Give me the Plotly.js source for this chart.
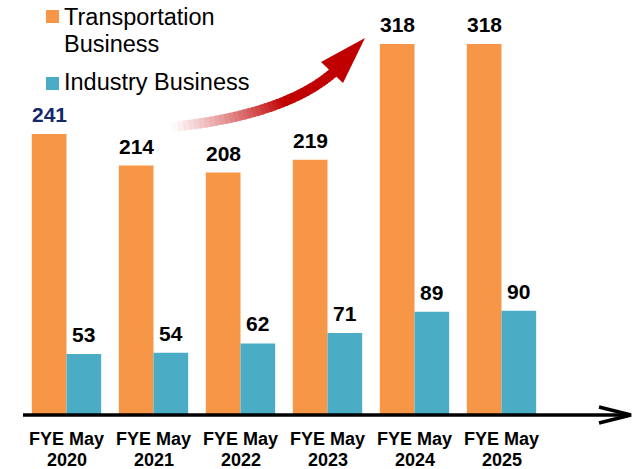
<!DOCTYPE html>
<html>
<head>
<meta charset="utf-8">
<script src="https://cdn.plot.ly/plotly-3.0.1.min.js"></script>
<style>html,body{margin:0;padding:0;background:#fff;}#chart{width:636px;height:469px;}</style>
</head>
<body>
<div id="chart"></div>
<script>
// ---- data ----
const categories = ['FYE May 2020','FYE May 2021','FYE May 2022','FYE May 2023','FYE May 2024','FYE May 2025'];
const tickLine1 = ['FYE May','FYE May','FYE May','FYE May','FYE May','FYE May'];
const tickLine2 = ['2020','2021','2022','2023','2024','2025'];
const transport = [241, 214, 208, 219, 318, 318];
const industry = [53, 54, 62, 71, 89, 90];
const seriesNames = ['Transportation Business', 'Industry Business'];

// ---- layout helpers (pixel -> paper) ----
const W = 636, H = 469, L = 23, R = 91, T = 0, B = 53;
const pw = W - L - R, ph = H - T - B;
const px = p => (p - L) / pw;
const py = p => (H - B - p) / ph;

const ORANGE = '#F79646', TEAL = '#4BACC6', RED = [192, 0, 0];
const FONT = 'Liberation Sans, Arial, sans-serif';
const BAR_HALF = 17.35;

const traces = [
  {type: 'bar', name: seriesNames[0], x: categories, y: transport, marker: {color: ORANGE}, hoverinfo: 'skip'},
  {type: 'bar', name: seriesNames[1], x: categories, y: industry, marker: {color: TEAL}, hoverinfo: 'skip'}
];

const shapes = [];
const annotations = [];

// value labels
const valFont = c => ({family: FONT, size: 21, weight: 'bold', color: c});
categories.forEach((c, i) => {
  annotations.push({xref: 'x', yref: 'y', x: c, y: transport[i], text: String(transport[i]), showarrow: false,
    xanchor: 'center', yanchor: 'middle', xshift: -BAR_HALF, yshift: 19.5,
    font: valFont(i === 0 ? '#13296B' : '#000000')});
  annotations.push({xref: 'x', yref: 'y', x: c, y: industry[i], text: String(industry[i]), showarrow: false,
    xanchor: 'center', yanchor: 'middle', xshift: BAR_HALF, yshift: 19.5,
    font: valFont('#000000')});
});

// baseline axis arrow
shapes.push({type: 'line', xref: 'paper', yref: 'paper', x0: px(23), x1: px(630), y0: py(415), y1: py(415), line: {color: '#000', width: 3.5}});
shapes.push({type: 'path', xref: 'paper', yref: 'paper',
  path: `M${px(599)},${py(407)} L${px(631)},${py(415)} L${px(599)},${py(423)}`,
  line: {color: '#000', width: 3.5}});

// x tick labels (two lines)
categories.forEach((c, i) => {
  annotations.push({xref: 'x', yref: 'paper', x: c, y: py(438.7), text: tickLine1[i], showarrow: false,
    xanchor: 'center', yanchor: 'middle', font: {family: FONT, size: 18, weight: 'bold', color: '#000'}});
  annotations.push({xref: 'x', yref: 'paper', x: c, y: py(459.7), text: tickLine2[i], showarrow: false,
    xanchor: 'center', yanchor: 'middle', font: {family: FONT, size: 18, weight: 'bold', color: '#000'}});
});

// legend
shapes.push({type: 'rect', xref: 'paper', yref: 'paper', x0: px(46), x1: px(59), y0: py(10), y1: py(23), fillcolor: ORANGE, line: {width: 0}});
shapes.push({type: 'rect', xref: 'paper', yref: 'paper', x0: px(46), x1: px(59), y0: py(77), y1: py(90), fillcolor: TEAL, line: {width: 0}});
const legFont = {family: FONT, size: 23.5, color: '#000'};
annotations.push({xref: 'paper', yref: 'paper', x: px(62), y: py(16.8), text: 'Transportation', showarrow: false, xanchor: 'left', yanchor: 'middle', font: legFont});
annotations.push({xref: 'paper', yref: 'paper', x: px(62), y: py(43.6), text: 'Business', showarrow: false, xanchor: 'left', yanchor: 'middle', font: legFont});
annotations.push({xref: 'paper', yref: 'paper', x: px(62), y: py(81.7), text: 'Industry Business', showarrow: false, xanchor: 'left', yanchor: 'middle', font: legFont});

// decorative red growth arrow (gradient body + head)
const P0 = [172, 127], C = [285, 115], P2 = [334, 72];
const bez = t => [
  (1 - t) * (1 - t) * P0[0] + 2 * (1 - t) * t * C[0] + t * t * P2[0],
  (1 - t) * (1 - t) * P0[1] + 2 * (1 - t) * t * C[1] + t * t * P2[1]
];
const N = 40;
for (let i = 0; i < N; i++) {
  const t0 = i / N, t1 = Math.min(1, (i + 1.6) / N);
  const a = bez(t0), b = bez(t1);
  const f = Math.min(1, (i + 0.5) / N / 0.6);
  const col = `rgb(${Math.round(255 + (RED[0] - 255) * f)},${Math.round(255 + (RED[1] - 255) * f)},${Math.round(255 + (RED[2] - 255) * f)})`;
  shapes.push({type: 'line', xref: 'paper', yref: 'paper', x0: px(a[0]), y0: py(a[1]), x1: px(b[0]), y1: py(b[1]), line: {color: col, width: 10}});
}
shapes.push({type: 'path', xref: 'paper', yref: 'paper',
  path: `M${px(365)},${py(38)} L${px(321)},${py(62)} L${px(343)},${py(83)} Z`,
  fillcolor: 'rgb(192,0,0)', line: {width: 0}});

const layout = {
  width: W, height: H,
  margin: {l: L, r: R, t: T, b: B, pad: 0},
  paper_bgcolor: '#fff', plot_bgcolor: '#fff',
  barmode: 'group', bargap: 0.203, bargroupgap: 0,
  showlegend: false,
  xaxis: {type: 'category', showticklabels: false, showgrid: false, zeroline: false, showline: false, ticks: ''},
  yaxis: {range: [0, 355.5], visible: false, showgrid: false, zeroline: false},
  shapes: shapes, annotations: annotations,
  font: {family: FONT}
};

Plotly.newPlot('chart', traces, layout, {staticPlot: true, displayModeBar: false});
</script>
</body>
</html>
